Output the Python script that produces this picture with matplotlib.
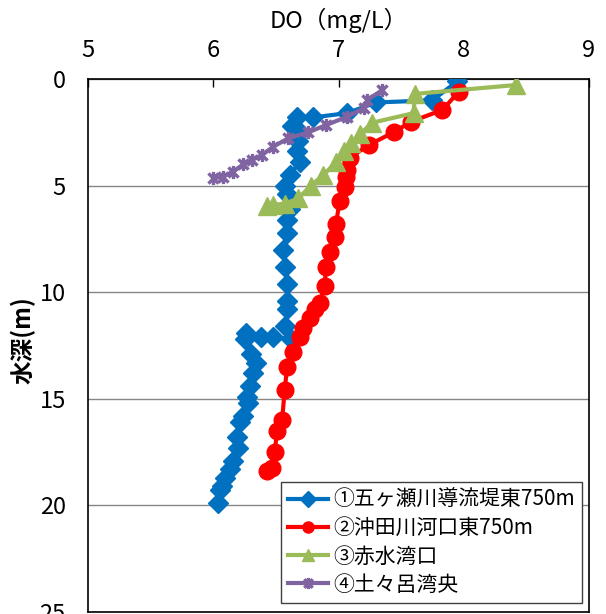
import matplotlib
matplotlib.use("Agg")
import matplotlib.pyplot as plt
from matplotlib.path import Path

plt.rcParams['font.family'] = ['Noto Sans CJK JP', 'DejaVu Sans']

# Dissolved oxygen profiles: depth (m) and DO (mg/L) per station
st1_name = "①五ヶ瀬川導流堤東750m"
st1_depth = [0.1, 1.0, 1.1, 1.6, 1.8, 1.8, 2.2, 2.5, 2.9, 3.4, 3.9, 4.5, 5.0, 5.4, 5.9,
             6.1, 6.6, 7.2, 8.0, 8.8, 9.6, 10.4, 10.8, 11.6, 12.2, 12.1, 12.1, 11.9, 12.2,
             12.9, 13.3, 13.8, 14.4, 14.9, 15.2, 15.8, 16.1, 16.8, 17.3, 17.9, 18.3, 18.7,
             19.1, 19.3, 19.9]
st1_do = [7.95, 7.75, 7.30, 7.07, 6.80, 6.67, 6.63, 6.69, 6.68, 6.67, 6.69, 6.61, 6.57, 6.59, 6.61,
          6.61, 6.59, 6.59, 6.56, 6.57, 6.59, 6.59, 6.59, 6.57, 6.62, 6.48, 6.38, 6.26, 6.25,
          6.30, 6.34, 6.32, 6.29, 6.27, 6.28, 6.24, 6.21, 6.19, 6.20, 6.16, 6.13, 6.09,
          6.07, 6.05, 6.04]

st2_name = "②沖田川河口東750m"
st2_depth = [0.6, 1.45, 2.0, 2.5, 3.1, 3.7, 4.25, 4.6, 5.05, 5.7, 6.8, 7.4, 8.1, 8.8, 9.7,
             10.5, 10.8, 11.2, 11.7, 12.1, 12.8, 13.5, 14.6, 16.0, 16.5, 17.5, 18.25, 18.4]
st2_do = [7.96, 7.83, 7.58, 7.44, 7.24, 7.09, 7.07, 7.06, 7.05, 7.01, 6.98, 6.97, 6.93, 6.90, 6.89,
          6.85, 6.81, 6.77, 6.72, 6.69, 6.64, 6.59, 6.57, 6.55, 6.51, 6.49, 6.47, 6.43]

st3_name = "③赤水湾口"
st3_depth = [0.28, 0.7, 1.6, 2.05, 2.6, 3.0, 3.4, 3.9, 4.5, 5.0, 5.6, 5.85, 5.9, 5.95]
st3_do = [8.42, 7.61, 7.60, 7.27, 7.17, 7.10, 7.04, 6.98, 6.88, 6.78, 6.68, 6.57, 6.48, 6.43]

st4_name = "④土々呂湾央"
st4_depth = [0.52, 0.98, 1.37, 1.77, 2.16, 2.5, 2.78, 3.17, 3.56, 3.8, 4.0, 4.34, 4.58, 4.66]
st4_do = [7.35, 7.23, 7.20, 7.07, 6.90, 6.76, 6.60, 6.48, 6.39, 6.31, 6.24, 6.16, 6.08, 6.00]

x_ticks = [5, 6, 7, 8, 9]
y_ticks = [0, 5, 10, 15, 20, 25]

# asterisk marker: an "x" crossed by a vertical bar
star_path = Path([(-1, -1), (1, 1), (-1, 1), (1, -1), (0, -1.3), (0, 1.3)],
                 [Path.MOVETO, Path.LINETO, Path.MOVETO, Path.LINETO, Path.MOVETO, Path.LINETO])

fig = plt.figure(figsize=(6.06, 6.14), dpi=100)
ax = fig.add_axes([88 / 606, 1 - 612 / 614, (589 - 88) / 606, (612 - 79) / 614])

ax.plot(st1_do, st1_depth, color='#0070C0', lw=3, marker='D', ms=10.5, mec='#0070C0', label=st1_name, zorder=3)
ax.plot(st2_do, st2_depth, color='#FF0000', lw=3, marker='o', ms=12, mec='#FF0000', label=st2_name, zorder=4)
ax.plot(st3_do, st3_depth, color='#9BBB59', lw=3, marker='^', ms=13, mec='#9BBB59', label=st3_name, zorder=5)
ax.plot(st4_do, st4_depth, color='#8064A2', lw=3, marker=star_path, ms=9.5, mew=2.4, mec='#8064A2',
        label=st4_name, zorder=6)

ax.set_xlim(5, 9)
ax.set_ylim(25, 0)
ax.set_xticks(x_ticks)
ax.set_yticks(y_ticks)
ax.xaxis.tick_top()
ax.xaxis.set_label_position('top')
ax.tick_params(axis='x', direction='in', length=6, width=1, labelsize=17, pad=12)
ax.tick_params(axis='y', length=0, labelsize=17, pad=16)
ax.grid(axis='y', color='#868686', lw=1)
ax.set_axisbelow(True)
for s in ax.spines.values():
    s.set_color('black')
    s.set_linewidth(1.2)

ax.set_xlabel("DO（mg/L）", fontsize=17, labelpad=8)
ax.set_ylabel("水深(m)", fontsize=17, fontweight='bold', labelpad=0)
ax.yaxis.set_label_coords(-0.105, 0.51)

leg = ax.legend(loc='lower right', bbox_to_anchor=(582 / 606, 1 - 603 / 614),
                bbox_transform=fig.transFigure, borderaxespad=0, fontsize=15,
                numpoints=1, handlelength=1.9, handletextpad=0.25, labelspacing=0.3,
                borderpad=0.35, fancybox=False, framealpha=1, edgecolor='#404040')
leg.get_frame().set_linewidth(1.0)
for h in leg.get_lines():
    h.set_markersize(8)

fig.savefig("out.png", dpi=100)
